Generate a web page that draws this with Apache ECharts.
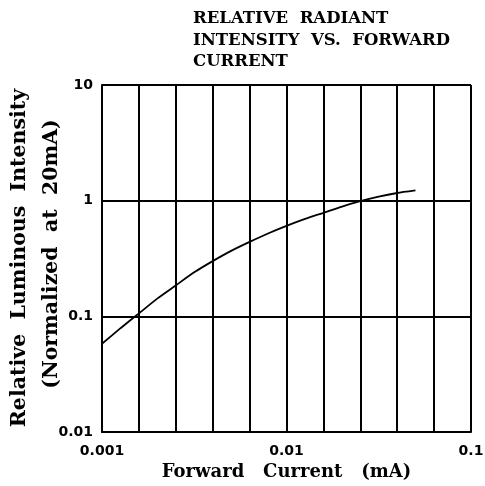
<!DOCTYPE html>
<html><head><meta charset="utf-8">
<script src="https://cdn.jsdelivr.net/npm/echarts@6/dist/echarts.min.js"></script>
<style>html,body{margin:0;padding:0;background:#fff}#c{width:485px;height:486px}</style>
</head><body><div id="c"></div>
<script>
var titleText = "RELATIVE  RADIANT\nINTENSITY  VS.  FORWARD\nCURRENT";
var xName = "Forward   Current   (mA)";
var yNameLine1 = "Relative  Luminous  Intensity";
var yNameLine2 = "(Normalized  at  20mA)";
var currentMA = [0.001, 0.00126, 0.001585, 0.002, 0.00251, 0.00316, 0.00398, 0.00501, 0.00631, 0.00794, 0.01, 0.0126, 0.01585, 0.02, 0.0251, 0.0316, 0.0398, 0.05];
var relIntensity = [0.058, 0.079, 0.106, 0.143, 0.185, 0.240, 0.300, 0.368, 0.440, 0.520, 0.605, 0.695, 0.785, 0.890, 0.990, 1.085, 1.165, 1.225];
var xTicks = [0.001, 0.01, 0.1];
var yTicks = [0.01, 0.1, 1, 10];
var gridDivisions = 10;

var chart = echarts.init(document.getElementById('c'));
var data = currentMA.map(function (x, i) { return [x, relIntensity[i]]; });
var labelFont = {color: '#000', fontFamily: 'DejaVu Sans', fontWeight: 'bold', fontSize: 14};
var nameFont = 'bold 20.5px "DejaVu Serif"';
chart.setOption({
  animation: false,
  title: {
    text: titleText, left: 188, top: 3,
    textStyle: {fontFamily: 'DejaVu Serif', fontWeight: 'bold', fontSize: 16.5, lineHeight: 21.5, color: '#000'}
  },
  grid: {left: 102, right: 14, top: 85, bottom: 54, containLabel: false, outerBoundsMode: 'none'},
  graphic: [
    {type: 'text', x: 20, y: 258, rotation: Math.PI / 2,
     style: {text: yNameLine1, font: nameFont, fill: '#000', align: 'center', verticalAlign: 'middle'}},
    {type: 'text', x: 52, y: 254, rotation: Math.PI / 2,
     style: {text: yNameLine2, font: nameFont, fill: '#000', align: 'center', verticalAlign: 'middle'}}
  ],
  xAxis: [{
    type: 'log', logBase: 10, min: xTicks[0], max: xTicks[xTicks.length - 1],
    name: xName, nameLocation: 'middle', nameGap: 28,
    nameTextStyle: {fontFamily: 'DejaVu Serif', fontWeight: 'bold', fontSize: 18, color: '#000'},
    axisLine: {show: true, lineStyle: {color: '#000', width: 2}},
    axisTick: {show: false}, splitLine: {show: false}, minorSplitLine: {show: false},
    axisLabel: Object.assign({margin: 12, formatter: function (v) { return String(v); }}, labelFont)
  }, {
    type: 'value', min: 0, max: gridDivisions, interval: 1, position: 'bottom',
    axisLine: {show: false}, axisTick: {show: false}, axisLabel: {show: false},
    splitLine: {show: true, lineStyle: {color: '#000', width: 2}}
  }],
  yAxis: {
    type: 'log', logBase: 10, min: yTicks[0], max: yTicks[yTicks.length - 1],
    axisLine: {show: true, lineStyle: {color: '#000', width: 2}},
    axisTick: {show: false},
    splitLine: {show: true, lineStyle: {color: '#000', width: 2}},
    axisLabel: Object.assign({margin: 9, formatter: function (v) { return String(v); }}, labelFont)
  },
  series: [{
    type: 'line', xAxisIndex: 0, data: data, smooth: 0.2, showSymbol: false,
    lineStyle: {color: '#000', width: 1.8}
  }]
});
</script></body></html>
